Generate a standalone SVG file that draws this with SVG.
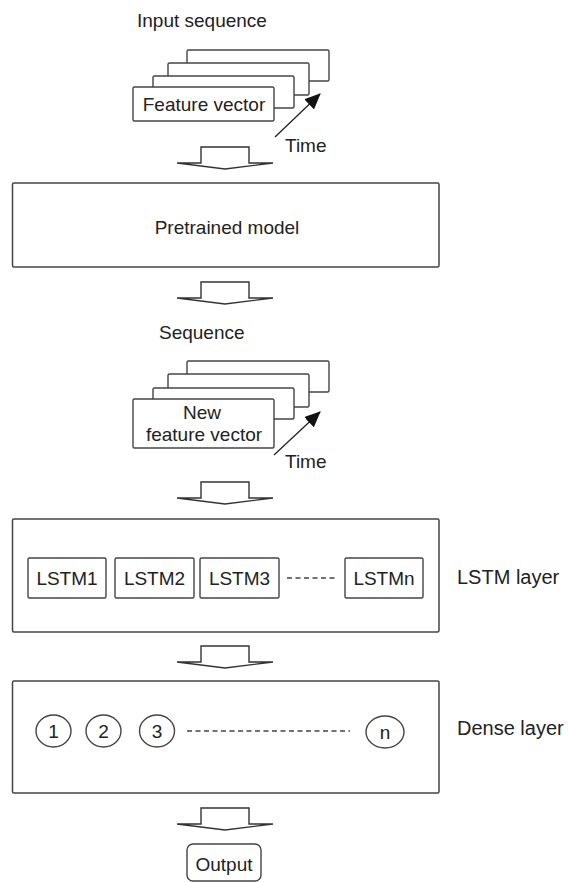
<svg xmlns="http://www.w3.org/2000/svg" width="568" height="882" viewBox="0 0 568 882">
<style>
text{font-family:"Liberation Sans",Arial,sans-serif;fill:#222;font-size:19px}
.side{font-size:20px}
.box{fill:#fff;stroke:#444;stroke-width:1.5}
.sbox{fill:#fff;stroke:#444;stroke-width:1.4}
.dn{fill:#fff;stroke:#333;stroke-width:1.4;stroke-linejoin:miter}
.dash{stroke:#444;stroke-width:1.4;stroke-dasharray:5 3.5}
.time{stroke:#222;stroke-width:1.3}
</style>
<defs>
<marker id="ah" markerWidth="16" markerHeight="14" refX="15" refY="7" orient="auto" markerUnits="userSpaceOnUse">
<path d="M0,0 L16,7 L0,14 Z" fill="#111"/>
</marker>
<g id="downArrow">
<path class="dn" d="M201,163 L201,147 L249,147 L249,163 L273,163 L225,169 L177,163 Z"/>
</g>
</defs>

<g id="input-seq">
<text x="137" y="27">Input sequence</text>
<rect class="sbox" x="187" y="50" width="142" height="31" rx="1.5"/>
<rect class="sbox" x="168" y="63" width="141" height="32" rx="1.5"/>
<rect class="sbox" x="153" y="76" width="141" height="32" rx="1.5"/>
<rect class="sbox" x="133" y="87" width="141" height="34" rx="1.5"/>
<text x="204" y="111" text-anchor="middle">Feature vector</text>
<text x="285" y="152">Time</text>
</g>

<g id="pretrained">
<rect class="box" x="12.5" y="183" width="426.5" height="84" rx="1.5"/>
<text x="227" y="234" text-anchor="middle">Pretrained model</text>
</g>

<g id="sequence">
<text x="159" y="339">Sequence</text>
<rect class="sbox" x="187" y="361" width="142" height="31" rx="1.5"/>
<rect class="sbox" x="168" y="374" width="141" height="33" rx="1.5"/>
<rect class="sbox" x="153" y="388" width="141" height="31" rx="1.5"/>
<rect class="sbox" x="133" y="399" width="141" height="49" rx="1.5"/>
<text x="202" y="419" text-anchor="middle">New</text>
<text x="204" y="441" text-anchor="middle">feature vector</text>
<text x="285" y="468">Time</text>
</g>

<g id="lstm-layer">
<rect class="box" x="12.5" y="519" width="426.5" height="113" rx="1.5"/>
<rect class="sbox" x="28" y="558" width="78" height="40" rx="1.5"/>
<text x="67" y="585" text-anchor="middle">LSTM1</text>
<rect class="sbox" x="115" y="558" width="79" height="40" rx="1.5"/>
<text x="154.5" y="585" text-anchor="middle">LSTM2</text>
<rect class="sbox" x="200" y="558" width="79" height="40" rx="1.5"/>
<text x="239.5" y="585" text-anchor="middle">LSTM3</text>
<rect class="sbox" x="345" y="558" width="78" height="40" rx="1.5"/>
<text x="384" y="585" text-anchor="middle">LSTMn</text>
<line class="dash" x1="287" y1="578" x2="337" y2="578"/>
<text class="side" x="457" y="584">LSTM layer</text>
</g>

<g id="dense-layer">
<rect class="box" x="12.5" y="681" width="426.5" height="112" rx="1.5"/>
<ellipse class="sbox" cx="53.5" cy="731" rx="17.5" ry="16"/>
<text x="53.5" y="738" text-anchor="middle">1</text>
<ellipse class="sbox" cx="103.5" cy="731" rx="17.5" ry="16"/>
<text x="103.5" y="738" text-anchor="middle">2</text>
<ellipse class="sbox" cx="157" cy="731" rx="17.5" ry="16"/>
<text x="157" y="738" text-anchor="middle">3</text>
<ellipse class="sbox" cx="385" cy="732" rx="19" ry="16"/>
<text x="385" y="739" text-anchor="middle">n</text>
<line class="dash" x1="187" y1="731" x2="350" y2="731"/>
<text class="side" x="457" y="735">Dense layer</text>
</g>

<g id="output">
<rect class="sbox" x="187" y="844" width="74" height="37" rx="6"/>
<text x="224" y="871" text-anchor="middle">Output</text>
</g>

<g id="connectors">
<line class="time" x1="275" y1="137" x2="320" y2="94" marker-end="url(#ah)"/>
<line class="time" x1="274" y1="455" x2="320" y2="412" marker-end="url(#ah)"/>
<use href="#downArrow"/>
<use href="#downArrow" transform="translate(0,135)"/>
<use href="#downArrow" transform="translate(0,335)"/>
<use href="#downArrow" transform="translate(0,499)"/>
<use href="#downArrow" transform="translate(0,661)"/>
</g>
</svg>
